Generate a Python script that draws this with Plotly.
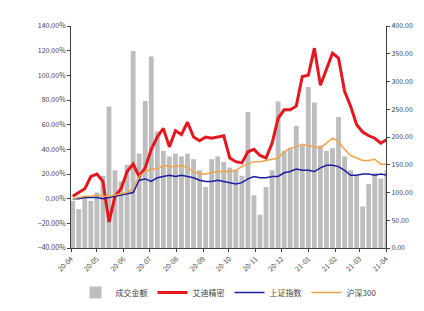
import plotly.graph_objects as go
import pandas as pd

dates = pd.date_range("2020-04-03", periods=53, freq="7D").strftime("%Y-%m-%d").tolist()

turnover = [85, 70, 90, 85, 100, 130, 255, 140, 120, 150,
            355, 170, 265, 345, 210, 175, 165, 170, 165, 170,
            160, 140, 110, 160, 165, 155, 145, 140, 130, 245,
            95, 60, 110, 140, 264, 175, 180, 220, 185, 290,
            262, 185, 175, 180, 236, 165, 140, 130, 75, 115,
            135, 125, 140]

aidi = [2, 5, 8, 18, 20, 14, -19, 2, 8, 22,
        28, 18, 25, 40, 50, 57, 42, 55, 52, 62,
        50, 47, 50, 49, 50, 51, 33, 30, 29, 38,
        40, 35, 33, 45, 65, 72, 72, 75, 99, 100,
        122, 92, 105, 118, 114, 87, 75, 60, 54, 51,
        49, 45, 48]

shindex = [0, 0, 1, 1, 1, 0, 1, 2, 3, 4,
           5, 15, 16, 14, 17, 18, 19, 18, 19, 18,
           17, 15, 14, 14, 15, 14, 13, 12, 13, 16,
           18, 17, 17, 18, 18, 21, 22, 24, 23, 23,
           22, 25, 27, 27, 26, 23, 19, 19, 20, 20,
           19, 20, 19]

hs300 = [0, 1, 2, 2, 3, 2, 2, 3, 4, 5,
         8, 18, 22, 24, 24, 27, 26, 26, 27, 25,
         22, 20, 20, 21, 22, 22, 22, 23, 26, 28,
         30, 30, 31, 32, 33, 38, 41, 42, 44, 43,
         42, 41, 45, 49, 46, 40, 35, 33, 31, 31,
         32, 28, 28]

month_ticks = pd.date_range("2020-04-01", "2021-04-01", freq="MS").strftime("%Y-%m-%d").tolist()
month_labels = ["20-04", "20-05", "20-06", "20-07", "20-08", "20-09", "20-10",
                "20-11", "20-12", "21-01", "21-02", "21-03", "21-04"]

font_family = "Noto Sans CJK SC, Arial, sans-serif"

fig = go.Figure()
fig.add_trace(go.Bar(x=dates, y=turnover, name="成交金额", marker_color="#BDBDBD",
                     marker_line_width=0, yaxis="y"))
fig.add_trace(go.Scatter(x=dates, y=aidi, name="艾迪精密", mode="lines",
                         line=dict(color="#E5161D", width=3), yaxis="y2"))
fig.add_trace(go.Scatter(x=dates, y=shindex, name="上证指数", mode="lines",
                         line=dict(color="#1C1CA6", width=1.5), yaxis="y2"))
fig.add_trace(go.Scatter(x=dates, y=hs300, name="沪深300", mode="lines",
                         line=dict(color="#F0A54A", width=1.5), yaxis="y2"))

axis_common = dict(showgrid=False, zeroline=False, showline=True, linecolor="#404040",
                   linewidth=1, ticks="outside", ticklen=3, tickcolor="#404040",
                   tickfont=dict(size=7, color="#444444", family=font_family))

fig.update_layout(
    width=424, height=311,
    margin=dict(l=63, r=46, t=18, b=61),
    paper_bgcolor="white", plot_bgcolor="white",
    bargap=0.2,
    showlegend=True,
    legend=dict(orientation="h", x=0.5, xanchor="center", y=-0.2, yanchor="middle",
                font=dict(size=8, color="#444444", family=font_family),
                itemwidth=30, tracegroupgap=0),
    xaxis=dict(type="date", range=["2020-04-01", "2021-04-01"],
               tickvals=month_ticks, ticktext=month_labels, tickangle=-45,
               **axis_common),
    yaxis=dict(side="right", range=[0, 400], dtick=50, tickformat=".2f", **axis_common),
    yaxis2=dict(side="left", overlaying="y", range=[-40, 140], dtick=20,
                tickformat=".2f", ticksuffix="%", **axis_common),
)

fig.write_html("out.html")
